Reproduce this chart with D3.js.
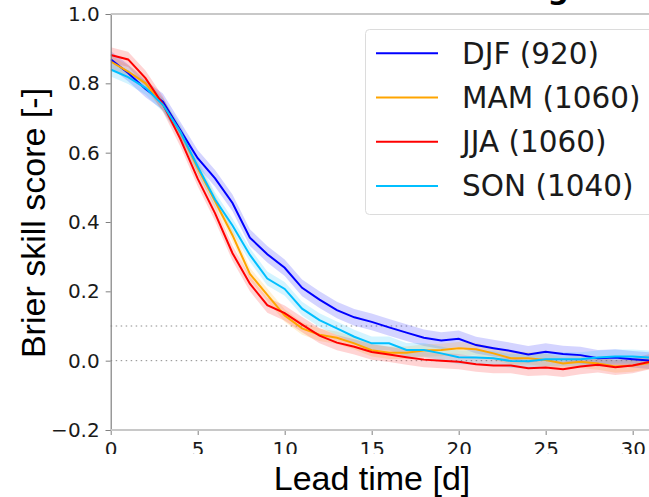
<!DOCTYPE html>
<html>
<head>
<meta charset="utf-8">
<script src="https://cdn.jsdelivr.net/npm/d3@7"></script>
<style>
  html, body { margin: 0; padding: 0; background: #fff; }
  svg { display: block; font-family: "DejaVu Sans", sans-serif; }
</style>
</head>
<body>
<svg width="649" height="497"></svg>
<script>
// lead time in days
var leadDays = d3.range(0, 32);

var seasons = ["DJF (920)", "MAM (1060)", "JJA (1060)", "SON (1040)"];
var colors = ["#0000ff", "#ffa500", "#ff0000", "#00bfff"];

var djf = [0.869, 0.830, 0.784, 0.747, 0.665, 0.584, 0.526, 0.455, 0.355, 0.307, 0.268, 0.210,
           0.176, 0.146, 0.125, 0.112, 0.096, 0.081, 0.066, 0.058, 0.063, 0.045, 0.036, 0.028,
           0.018, 0.026, 0.019, 0.016, 0.007, 0.009, 0.004, 0.000];
var mam = [0.863, 0.834, 0.800, 0.738, 0.660, 0.555, 0.460, 0.362, 0.250, 0.190, 0.130, 0.093,
           0.075, 0.066, 0.050, 0.030, 0.023, 0.023, 0.029, 0.031, 0.036, 0.033, 0.021, 0.007,
           0.007, 0.002, -0.008, -0.003, -0.008, -0.017, -0.014, -0.006];
var jja = [0.882, 0.869, 0.815, 0.740, 0.640, 0.525, 0.425, 0.310, 0.222, 0.160, 0.137, 0.104,
           0.072, 0.052, 0.040, 0.025, 0.018, 0.010, 0.003, 0.000, -0.003, -0.010, -0.014, -0.014,
           -0.022, -0.020, -0.025, -0.017, -0.012, -0.019, -0.014, -0.003];
var son = [0.840, 0.818, 0.787, 0.738, 0.660, 0.560, 0.465, 0.390, 0.305, 0.237, 0.207, 0.150,
           0.117, 0.093, 0.069, 0.050, 0.050, 0.031, 0.031, 0.021, 0.010, 0.009, 0.007, -0.001,
           -0.002, 0.004, 0.004, 0.004, 0.009, 0.012, 0.012, 0.009];
// half width of the shaded uncertainty band
var spread = [0.024, 0.018, 0.022, 0.020];

var yTicks = [-0.2, 0.0, 0.2, 0.4, 0.6, 0.8, 1.0];
var xTicks = [0, 5, 10, 15, 20, 25, 30];
var refLines = [0.1, 0.0];

var svg = d3.select("svg");

var x = d3.scaleLinear().domain([0, 31.6]).range([110.7, 660.5]);
var y = d3.scaleLinear().domain([-0.2, 1.0]).range([430, 14]);

var series = [djf, mam, jja, son].map(function(vals, i) {
    return {name: seasons[i], color: colors[i], spread: spread[i],
            points: vals.map(function(v, j) { return {d: leadDays[j], v: v}; })};
});

// title, cut off by the top of the figure
svg.append("text")
    .attr("x", 569)
    .attr("y", -1)
    .attr("text-anchor", "end")
    .attr("font-size", 30)
    .attr("font-weight", "bold")
    .text("Hamburg");

var defs = svg.append("defs");
defs.append("clipPath").attr("id", "plot")
  .append("rect")
    .attr("x", x(0)).attr("y", y(1.0))
    .attr("width", x(31.6) - x(0)).attr("height", y(-0.2) - y(1.0));
// the tick numbers are cut at the bottom in the original
defs.append("clipPath").attr("id", "ticklab")
  .append("rect")
    .attr("x", 0).attr("y", 0)
    .attr("width", 700).attr("height", 454);

// reference lines
svg.append("g")
    .selectAll("line")
    .data(refLines)
    .enter().append("line")
    .attr("x1", x(0))
    .attr("x2", x(31.6))
    .attr("y1", function(d) { return y(d); })
    .attr("y2", function(d) { return y(d); })
    .attr("stroke", "#8c8c8c")
    .attr("stroke-width", 1)
    .attr("stroke-dasharray", "1.5,3.5");

var area = d3.area()
    .x(function(p) { return x(p.d); });

var line = d3.line()
    .x(function(p) { return x(p.d); })
    .y(function(p) { return y(p.v); });

var plot = svg.append("g").attr("clip-path", "url(#plot)");

plot.selectAll("path.band")
    .data(series)
    .enter().append("path")
    .attr("class", "band")
    .attr("fill", function(s) { return s.color; })
    .attr("fill-opacity", 0.17)
    .attr("d", function(s) {
        return area
            .y0(function(p) { return y(p.v - s.spread); })
            .y1(function(p) { return y(p.v + s.spread); })(s.points);
    });

plot.selectAll("path.line")
    .data(series)
    .enter().append("path")
    .attr("class", "line")
    .attr("fill", "none")
    .attr("stroke", function(s) { return s.color; })
    .attr("stroke-width", 2)
    .attr("d", function(s) { return line(s.points); });

// axes
var yAxis = svg.append("g")
    .attr("transform", "translate(" + x(0) + ",0)")
    .call(d3.axisLeft(y).tickValues(yTicks).tickFormat(d3.format(".1f")).tickSize(5).tickPadding(6));
yAxis.select(".domain").attr("stroke", "#808080").attr("stroke-width", 1.2);
yAxis.selectAll(".tick line").attr("stroke", "#808080");
yAxis.selectAll(".tick text").attr("font-size", 20).attr("fill", "#1a1a1a")
    .attr("font-family", "DejaVu Sans");

var xAxis = svg.append("g")
    .attr("clip-path", "url(#ticklab)")
  .append("g")
    .attr("transform", "translate(0," + y(-0.2) + ")")
    .call(d3.axisBottom(x).tickValues(xTicks).tickSize(5).tickPadding(7));
xAxis.select(".domain").remove();
xAxis.selectAll(".tick line").attr("stroke", "#808080");
xAxis.selectAll(".tick text").attr("font-size", 20).attr("fill", "#1a1a1a")
    .attr("font-family", "DejaVu Sans");

// spines
svg.append("line")
    .attr("x1", x(0)).attr("x2", x(31.6))
    .attr("y1", y(-0.2)).attr("y2", y(-0.2))
    .attr("stroke", "#c8c8c8").attr("stroke-width", 2);
svg.append("line")
    .attr("x1", x(0)).attr("x2", x(31.6))
    .attr("y1", y(1.0)).attr("y2", y(1.0))
    .attr("stroke", "#c8c8c8").attr("stroke-width", 2);

// axis labels
svg.append("text")
    .attr("x", 372)
    .attr("y", 490)
    .attr("text-anchor", "middle")
    .attr("font-family", "Liberation Sans")
    .attr("font-size", 34)
    .text("Lead time [d]");

svg.append("text")
    .attr("transform", "translate(45,223) rotate(-90)")
    .attr("text-anchor", "middle")
    .attr("font-family", "Liberation Sans")
    .attr("font-size", 34)
    .text("Brier skill score [-]");

// legend
var legend = svg.append("g");
legend.append("rect")
    .attr("x", 365.5).attr("y", 29.5)
    .attr("width", 300).attr("height", 185)
    .attr("rx", 4)
    .attr("fill", "#fff").attr("fill-opacity", 0.8)
    .attr("stroke", "#dcdcdc");

var entry = legend.selectAll("g.entry")
    .data(series)
    .enter().append("g")
    .attr("class", "entry")
    .attr("transform", function(s, i) { return "translate(0," + (53.3 + i * 44.2) + ")"; });

entry.append("line")
    .attr("x1", 376).attr("x2", 438)
    .attr("stroke", function(s) { return s.color; })
    .attr("stroke-width", 2);

entry.append("text")
    .attr("x", 462)
    .attr("dy", "0.35em")
    .attr("font-size", 29.5)
    .attr("fill", "#1a1a1a")
    .text(function(s) { return s.name; });
</script>
</body>
</html>
